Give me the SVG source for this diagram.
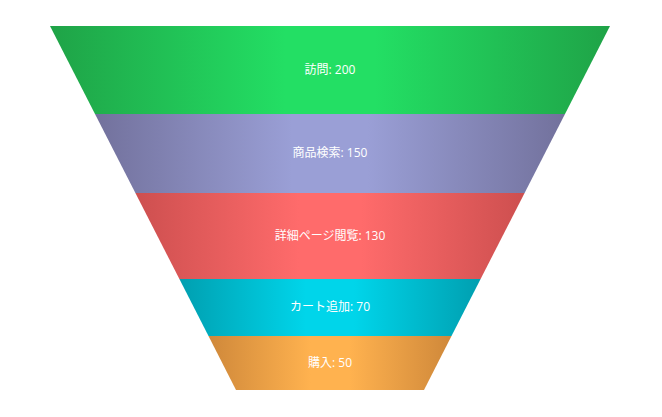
<svg xmlns="http://www.w3.org/2000/svg" width="662" height="417" viewBox="0 0 662 417">
<style>
.lbl{font-family:"Open Sans","Noto Sans CJK JP",sans-serif;font-size:12px;fill:#ffffff;text-anchor:middle;dominant-baseline:central}
</style>
<defs>
<linearGradient id="gGreen" x1="0" y1="0" x2="1" y2="0">
<stop offset="0" stop-color="#1fa347"/><stop offset="0.42" stop-color="#23df64"/><stop offset="0.58" stop-color="#23df64"/><stop offset="1" stop-color="#1fa347"/>
</linearGradient>
<linearGradient id="gPurple" x1="0" y1="0" x2="1" y2="0">
<stop offset="0" stop-color="#72719c"/><stop offset="0.42" stop-color="#9a9fd6"/><stop offset="0.58" stop-color="#9a9fd6"/><stop offset="1" stop-color="#72719c"/>
</linearGradient>
<linearGradient id="gRed" x1="0" y1="0" x2="1" y2="0">
<stop offset="0" stop-color="#cd4f4f"/><stop offset="0.42" stop-color="#ff6b6b"/><stop offset="0.58" stop-color="#ff6b6b"/><stop offset="1" stop-color="#cd4f4f"/>
</linearGradient>
<linearGradient id="gCyan" x1="0" y1="0" x2="1" y2="0">
<stop offset="0" stop-color="#009fb0"/><stop offset="0.42" stop-color="#00d5ea"/><stop offset="0.58" stop-color="#00d5ea"/><stop offset="1" stop-color="#009fb0"/>
</linearGradient>
<linearGradient id="gOrange" x1="0" y1="0" x2="1" y2="0">
<stop offset="0" stop-color="#cf883a"/><stop offset="0.42" stop-color="#ffb24f"/><stop offset="0.58" stop-color="#ffb24f"/><stop offset="1" stop-color="#cf883a"/>
</linearGradient>
</defs>
<g id="stage-visit">
<polygon points="50,26 610,26 565,114 95,114" fill="url(#gGreen)"/>
<text class="lbl" x="330" y="69">訪問: 200</text>
</g>
<g id="stage-search">
<polygon points="95,114 565,114 524.6,193 135.4,193" fill="url(#gPurple)"/>
<text class="lbl" x="330" y="152.5">商品検索: 150</text>
</g>
<g id="stage-detail">
<polygon points="135.4,193 524.6,193 480.6,279 179.4,279" fill="url(#gRed)"/>
<text class="lbl" x="330" y="235.5">詳細ページ閲覧: 130</text>
</g>
<g id="stage-cart">
<polygon points="179.4,279 480.6,279 451.5,336 208.5,336" fill="url(#gCyan)"/>
<text class="lbl" x="330" y="306.5">カート追加: 70</text>
</g>
<g id="stage-purchase">
<polygon points="208.5,336 451.5,336 424,390 236,390" fill="url(#gOrange)"/>
<text class="lbl" x="330" y="362.5">購入: 50</text>
</g>
<g id="connectors"/>
</svg>
